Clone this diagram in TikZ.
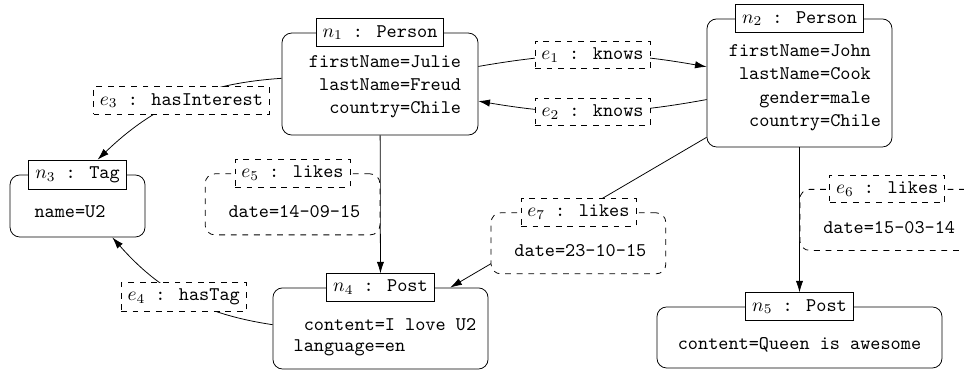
\documentclass[tikz,border=0pt]{standalone}
\usepackage{tikz}
\usetikzlibrary{arrows.meta}

% attribute table: #1 = 2*horizontal shift, #2 = vertical drop, #3 = rows
\newcommand{\attrs}[3]{\raisebox{-#2}[\height][\depth]{\hspace*{#1}\ttfamily\begin{tabular}{@{}r@{=}l@{}}#3\end{tabular}}}

\begin{document}
\begin{tikzpicture}[
	>={Latex[length=6pt, width=3.8pt]},
	entity/.style={draw, rounded corners=5pt},
	headbox/.style={draw, fill=white},
	rel/.style={draw, dashed, fill=white},
	relattr/.style={draw, dashed, fill=white, rounded corners=5pt, minimum width=90.5pt, minimum height=31.6pt},
	relhead/.style={draw, dashed, fill=white}]
	\useasboundingbox (0,0) rectangle (17.545,6.752);
	% vertices
	\node[entity, minimum width=101.5pt, minimum height=52.8pt] (n1) at (6.916,5.223)
		{\attrs{5.2pt}{1pt}{firstName&Julie\\lastName&Freud\\country&Chile}};
	\node[entity, minimum width=95.8pt, minimum height=66.3pt] (n2) at (14.551,5.242)
		{\attrs{5.6pt}{2pt}{firstName&John\\lastName&Cook\\gender&male\\country&Chile}};
	\node[entity, minimum width=69.9pt, minimum height=32.1pt] (n3) at (1.411,3.003)
		{\attrs{-7.8pt}{3.6pt}{name&U2}};
	\node[entity, minimum width=111.4pt, minimum height=42pt] (n4) at (6.925,0.774)
		{\attrs{4.6pt}{4.1pt}{content&I love U2\\[-1pt]language&en}};
	\node[entity, minimum width=147.6pt, minimum height=31.6pt] (n5) at (14.551,0.610)
		{\attrs{0pt}{3.9pt}{content&Queen is awesome}};
	\node[headbox] (n1t) at (n1.north) {$n_1$\texttt{ : Person}};
	\node[headbox] (n2t) at (n2.north) {$n_2$\texttt{ : Person}};
	\node[headbox] (n3t) at (n3.north) {$n_3$\texttt{ : Tag}};
	\node[headbox] (n4t) at (n4.north) {$n_4$\texttt{ : Post}};
	\node[headbox] (n5t) at (n5.north) {$n_5$\texttt{ : Post}};
	% edges
	\draw[->] (n1) to[bend left=10] node[rel] (e1) {$e_1$\texttt{ : knows}} (n2);
	\draw[->] (n2) to[bend left=10] node[rel] (e2) {$e_2$\texttt{ : knows}} (n1);
	\draw[->] (n1) to[bend right=20] node[rel] (e3) {$e_3$\texttt{ : hasInterest}} (n3t);
	\draw[->] (n4) to[bend left=20] node[rel] (e4) {$e_4$\texttt{ : hasTag}} (n3);
	\draw[->] (n1) -- node[relattr, left] (e5) {\attrs{2pt}{4.4pt}{date&14-09-15}} (n4t);
	\draw[->] (n2) -- node[relattr, right] (e6) {\attrs{2pt}{4.4pt}{date&15-03-14}} (n5t);
	\draw[->] (n2) -- node[relattr, below] (e7) {\attrs{2pt}{4.4pt}{date&23-10-15}} (n4);
	\node[relhead] (e5t) at (e5.north) {$e_5$\texttt{ : likes}};
	\node[relhead] (e6t) at (e6.north) {$e_6$\texttt{ : likes}};
	\node[relhead] (e7t) at (e7.north) {$e_7$\texttt{ : likes}};
\end{tikzpicture}
\end{document}
